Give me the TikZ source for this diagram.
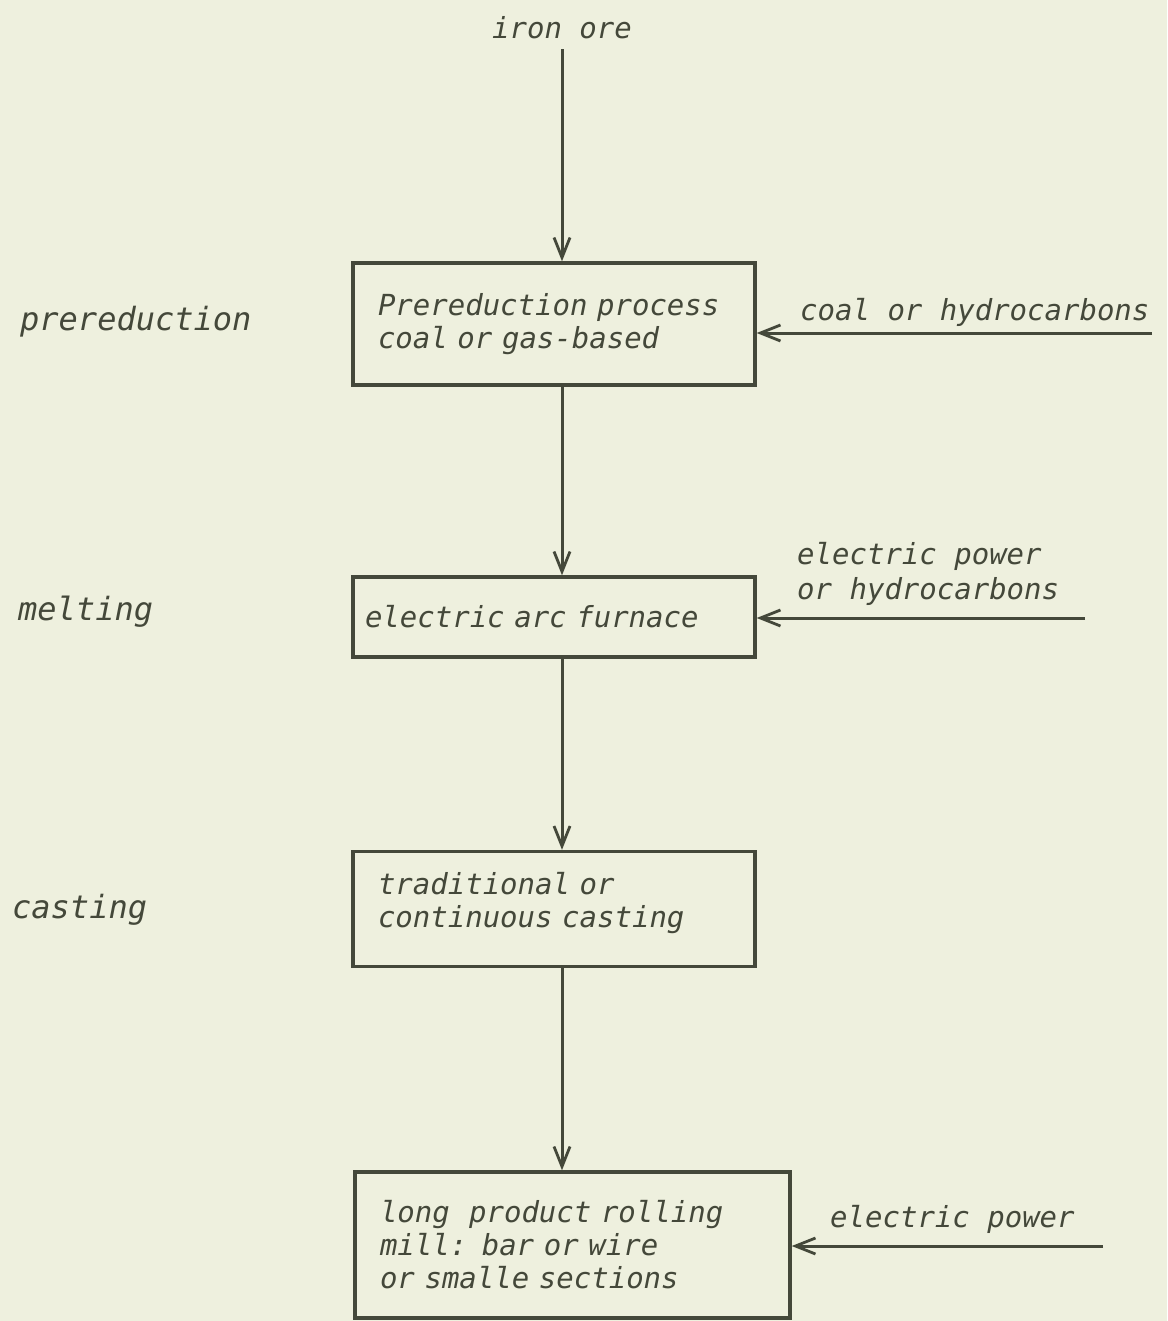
\documentclass[tikz,border=0pt]{standalone}
\usepackage{fontspec}
\usetikzlibrary{arrows.meta}
\newfontfamily\hand{DejaVu Sans Mono Oblique}
\definecolor{bg}{RGB}{238,240,222}
\definecolor{ink}{RGB}{68,72,58}
\begin{document}
\begin{tikzpicture}[x=1pt,y=-1pt,
  lbl/.style={font=\hand\fontsize{29}{33}\selectfont, inner sep=0pt, text=ink, align=left},
  side/.style={font=\hand\fontsize{32}{36}\selectfont, inner sep=0pt, text=ink, anchor=west},
  box/.style={draw=ink, line width=3.4pt, font=\hand\fontsize{29}{33}\selectfont, text=ink,
    align=left, inner xsep=0pt, inner ysep=0pt},
  flow/.style={draw=ink, line width=3pt, -{Straight Barb[length=20pt,width=16pt,line width=2.8pt]}}]
\fill[bg] (0,0) rectangle (1167,1321);
\useasboundingbox (0,0) rectangle (1167,1321);

\coordinate (col) at (562,0);

\node[lbl] (iron) at (562,28) {iron ore};

\node[box, minimum width=402pt, minimum height=122pt, text width=352pt] (b1) at (554,324)
  {Prereduction process\\coal or gas-based};
\node[box, minimum width=402pt, minimum height=80pt, text width=378pt] (b2) at (554,617)
  {electric arc furnace};
\node[box, minimum width=402pt, minimum height=115pt, text width=352pt] (b3) at (554,909)
  {traditional or\\continuous casting\\[-14pt]\mbox{}};
\node[box, minimum width=435pt, minimum height=146pt, text width=385pt] (b4) at (572.5,1245)
  {long\ \ product rolling\\mill: bar or wire\\or smalle sections};

\node[side] (l1) at (20,322) {prereduction};
\node[side] (l2) at (18,612) {melting};
\node[side] (l3) at (12,910) {casting};

\node[lbl, anchor=west] (r1) at (800,312) {coal or hydrocarbons};
\node[lbl, anchor=west, font=\hand\fontsize{29}{35}\selectfont] (r2) at (797,574) {electric power\\or hydrocarbons};
\node[lbl, anchor=west] (r4) at (830,1219) {electric power};

\coordinate (c1) at (1152,333);
\coordinate (c2) at (1085,618);
\coordinate (c4) at (1103,1246);

\draw[flow] (iron.south -| col) ++(0,10) -- (b1.north -| col);
\draw[flow] (b1.south -| col) -- (b2.north -| col);
\draw[flow] (b2.south -| col) -- (b3.north -| col);
\draw[flow] (b3.south -| col) -- (b4.north -| col);

\draw[flow] (c1) -- (c1 -| b1.east);
\draw[flow] (c2) -- (c2 -| b2.east);
\draw[flow] (c4) -- (c4 -| b4.east);
\end{tikzpicture}
\end{document}
